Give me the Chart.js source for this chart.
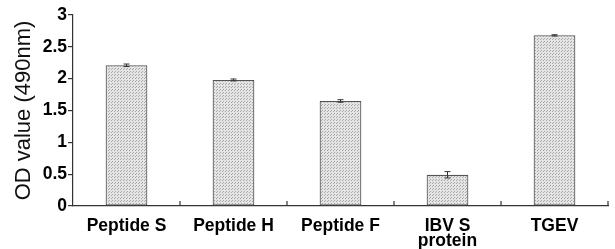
<!DOCTYPE html>
<html>
<head>
<meta charset="utf-8">
<script src="https://cdn.jsdelivr.net/npm/chart.js@4"></script>
<style>
  html, body { margin: 0; padding: 0; background: #fff; }
  #wrap { width: 615px; height: 249px; }
</style>
</head>
<body>
<div id="wrap"><canvas id="myChart" width="615" height="249"></canvas></div>
<script>
// data
var categories = [['Peptide S'], ['Peptide H'], ['Peptide F'], ['IBV S', 'protein'], ['TGEV']];
var odValues = [2.21, 1.98, 1.65, 0.49, 2.68];
var odErrors = [0.02, 0.015, 0.02, 0.05, 0.01];
var yTicks = [0, 0.5, 1, 1.5, 2, 2.5, 3];

// dotted grey fill like the original
function makePattern() {
    var c = document.createElement('canvas');
    c.width = 3; c.height = 3;
    var g = c.getContext('2d');
    g.fillStyle = '#e4e4e4';
    g.fillRect(0, 0, 3, 3);
    g.fillStyle = '#a8a8a8';
    g.fillRect(0, 0, 1, 1);
    g.fillRect(1, 2, 1, 1);
    return g.createPattern(c, 'repeat');
}

var errorBars = {
    id: 'errorBars',
    afterDatasetsDraw(chart) {
        var ctx = chart.ctx;
        var meta = chart.getDatasetMeta(0);
        var y = chart.scales.y;
        ctx.save();
        ctx.strokeStyle = '#333';
        ctx.lineWidth = 1;
        meta.data.forEach(function (bar, i) {
            var top = y.getPixelForValue(odValues[i] + odErrors[i]);
            var bot = y.getPixelForValue(odValues[i] - odErrors[i]);
            ctx.beginPath();
            ctx.moveTo(bar.x, top); ctx.lineTo(bar.x, bot);
            ctx.moveTo(bar.x - 3, top); ctx.lineTo(bar.x + 3, top);
            ctx.moveTo(bar.x - 3, bot); ctx.lineTo(bar.x + 3, bot);
            ctx.stroke();
        });
        ctx.restore();
    }
};

// inward ticks between categories on the x axis
var xTicksIn = {
    id: 'xTicksIn',
    afterDraw(chart) {
        var ctx = chart.ctx;
        var x = chart.scales.x;
        var base = chart.chartArea.bottom;
        ctx.save();
        ctx.strokeStyle = '#333';
        ctx.lineWidth = 1.2;
        for (var i = 0; i < categories.length; i++) {
            var px = i < categories.length - 1 ?
                (x.getPixelForValue(i) + x.getPixelForValue(i + 1)) / 2 : x.right;
            ctx.beginPath();
            ctx.moveTo(px, base - 5);
            ctx.lineTo(px, base);
            ctx.stroke();
        }
        ctx.restore();
    }
};

var ctx = document.getElementById('myChart').getContext('2d');
var myChart = new Chart(ctx, {
    type: 'bar',
    data: {
        labels: categories,
        datasets: [{
            data: odValues,
            backgroundColor: makePattern(),
            borderColor: '#555',
            borderWidth: 1.2,
            borderSkipped: false,
            barPercentage: 0.39,
            categoryPercentage: 1
        }]
    },
    options: {
        responsive: false,
        animation: false,
        layout: { padding: { top: 15, right: 7, left: 11, bottom: 0 } },
        plugins: { legend: { display: false }, tooltip: { enabled: false } },
        scales: {
            x: {
                grid: { display: false },
                border: { color: '#333', width: 1.2 },
                ticks: {
                    color: '#000',
                    padding: 4,
                    font: { family: 'Liberation Sans, Arial', size: 17.5, weight: 'bold', lineHeight: 0.9 }
                },
                afterFit(scale) { scale.height = 43; }
            },
            y: {
                min: 0,
                max: 3,
                afterBuildTicks(scale) { scale.ticks = yTicks.map(function (v) { return { value: v }; }); },
                grid: { drawOnChartArea: false, tickLength: 5, color: '#333', lineWidth: 1.2 },
                border: { color: '#333', width: 1.2 },
                ticks: {
                    color: '#000',
                    padding: 1,
                    callback: function (v) { return String(v); },
                    font: { family: 'Liberation Sans, Arial', size: 17.5, weight: 'bold' }
                },
                title: {
                    display: true,
                    text: 'OD value (490nm)',
                    color: '#111',
                    padding: 0,
                    font: { family: 'Liberation Sans, Arial', size: 22 }
                },
                afterFit(scale) { scale.width = 62; }
            }
        }
    },
    plugins: [errorBars, xTicksIn]
});
</script>
</body>
</html>
